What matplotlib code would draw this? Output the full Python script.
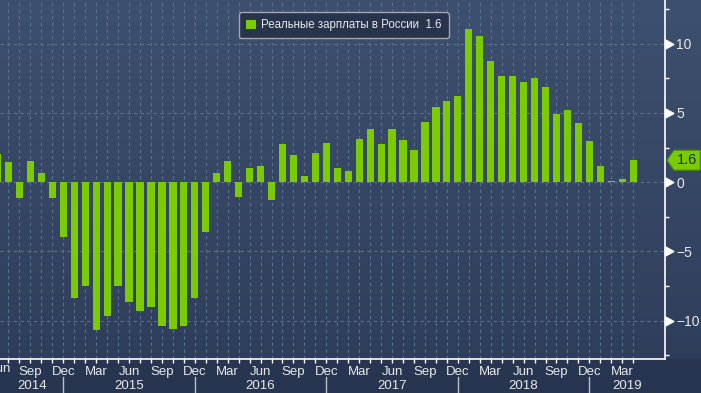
import numpy as np
import matplotlib
matplotlib.use('Agg')
import matplotlib.pyplot as plt
from matplotlib.path import Path
from matplotlib.patches import Polygon, Rectangle

# real wages in Russia, % y/y, monthly from Jun 2014 to Apr 2019
start_year = 2014
start_month = 6
wages = [
    2.06, 1.43, -1.14, 1.54, 0.67, -1.14, -3.99,
    -8.38, -7.46, -10.65, -9.64, -7.46, -8.62, -9.27, -9.03, -10.4, -10.58, -10.4, -8.38,
    -3.6, 0.67, 1.53, -1.08, 1.02, 1.17, -1.3, 2.75, 1.96, 0.43, 2.1, 2.85,
    1.01, 0.8, 3.12, 3.84, 2.75, 3.84, 3.04, 2.32, 4.36, 5.44, 5.88, 6.23,
    11.06, 10.58, 8.77, 7.67, 7.67, 7.26, 7.52, 6.88, 4.95, 5.24, 4.3, 3.0,
    1.16, 0.07, 0.22, 1.59,
]
series_name = 'Реальные зарплаты в России'
month_names = ['Jan', 'Feb', 'Mar', 'Apr', 'May', 'Jun',
               'Jul', 'Aug', 'Sep', 'Oct', 'Nov', 'Dec']
y_major = [-10, -5, 0, 5, 10]
y_minor = [-12.5, -7.5, -2.5, 2.5, 7.5, 12.5]

green = '#7acc00'
grid_col = '#58738f'
txt_col = '#e6e8ec'

plt.rcParams['font.family'] = ['Liberation Sans', 'DejaVu Sans']

x = np.arange(len(wages))
months = [(start_month - 1 + i) % 12 + 1 for i in x]
years = [start_year + (start_month - 1 + i) // 12 for i in x]

fig = plt.figure(figsize=(7.01, 3.93), dpi=100, facecolor='#283550')

# background gradient over the whole figure
bg = fig.add_axes([0, 0, 1, 1])
grad = np.linspace(0, 1, 256).reshape(-1, 1)
bg.imshow(grad, extent=[0, 1, 0, 1], aspect='auto',
          cmap=matplotlib.colors.LinearSegmentedColormap.from_list('bg', ['#2d3c59', '#3e506f']),
          origin='lower')
bg.add_patch(Rectangle((0, 0), 1, 0.0865, color='#283550', zorder=2))
bg.set_axis_off()

ax = fig.add_axes([0, 0.0865, 0.9486, 0.9135])
ax.set_facecolor('none')

bars = ax.bar(x, wages, width=0.66, color=green, zorder=3,
              label=f'{series_name}  {wages[-1]:.1f}')

ax.set_xlim(0.2245, 60.9)
ax.set_ylim(-12.76, 13.15)

# grid
for xi in x:
    ax.axvline(xi, color=grid_col, lw=0.8, ls=(0, (3, 3)), zorder=1)
for yv in y_major:
    ax.axhline(yv, color=grid_col, lw=0.8, ls=(0, (3, 3)), zorder=1)

for s in ['left', 'top']:
    ax.spines[s].set_visible(False)
for s in ['right', 'bottom']:
    ax.spines[s].set_color('white')
    ax.spines[s].set_linewidth(1.2)

# y axis on the right
ax.yaxis.tick_right()
ax.set_yticks(y_major)
ax.set_yticks(y_minor, minor=True)
ax.set_yticklabels([str(v) if v >= 0 else '\u2212' + str(-v) for v in y_major])
ax.tick_params(axis='y', which='major', length=0, pad=8, labelsize=10, labelcolor=txt_col)
ax.tick_params(axis='y', which='minor', length=3, width=1, color='white')
tri = Path([(0, -0.55), (1, 0), (0, 0.55), (0, -0.55)])
ytr = ax.get_yaxis_transform()
ax.plot([1] * len(y_major), y_major, ls='none', marker=tri, markersize=12,
        color='white', transform=ytr, clip_on=False, zorder=5)

# x axis months
tick_idx = [i for i in x[1:] if months[i] in (3, 6, 9, 12)]
ax.set_xticks(tick_idx)
ax.set_xticklabels([month_names[months[i] - 1] for i in tick_idx])
ax.set_xticks(x[1:], minor=True)
ax.tick_params(axis='x', which='both', length=3, width=1, color='white',
               pad=2, labelsize=9.5, labelcolor=txt_col)
xtr = ax.get_xaxis_transform()
# first month label is cut by the left edge, as in the source
ax.text(0.25, -0.012, month_names[months[0] - 1], transform=xtr, ha='center', va='top',
        fontsize=9.5, color=txt_col, clip_on=False)

# year labels and separators
dec_idx = [i for i in x if months[i] == 12]
bounds = [ax.get_xlim()[0]] + dec_idx + [ax.get_xlim()[1]]
yrs = sorted(set(years))
for k, yr in enumerate(yrs):
    ax.text((bounds[k] + bounds[k + 1]) / 2, -0.074, str(yr), transform=xtr,
            ha='center', va='center', fontsize=9.5, color=txt_col, clip_on=False)
for d in dec_idx:
    ax.plot([d, d], [-0.05, -0.1], color='#b8c0cc', lw=1, transform=xtr, clip_on=False)

# last value tag
v = wages[-1]
h = 0.72
tag = Polygon([(1.003, v), (1.0135, v + h), (1.053, v + h), (1.053, v - h), (1.0135, v - h)],
              closed=True, transform=ytr, facecolor=green, edgecolor='#4e8a00',
              lw=0.8, clip_on=False, zorder=6)
ax.add_patch(tag)
ax.text(1.033, v, f'{v:.1f}', transform=ytr, ha='center', va='center',
        fontsize=10.5, color='#1c2838', clip_on=False, zorder=7)

leg = ax.legend(loc='upper center', bbox_to_anchor=(0.517, 0.982), frameon=True,
                fancybox=True, fontsize=8.3, handlelength=0.85, handleheight=0.85,
                handletextpad=0.5, borderpad=0.6, labelcolor=txt_col)
leg.get_frame().set_facecolor('#27344c')
leg.get_frame().set_edgecolor('#a0a6b0')
leg.get_frame().set_alpha(1)
leg.get_frame().set_linewidth(1)

fig.savefig('out.png', dpi=100, facecolor=fig.get_facecolor())
